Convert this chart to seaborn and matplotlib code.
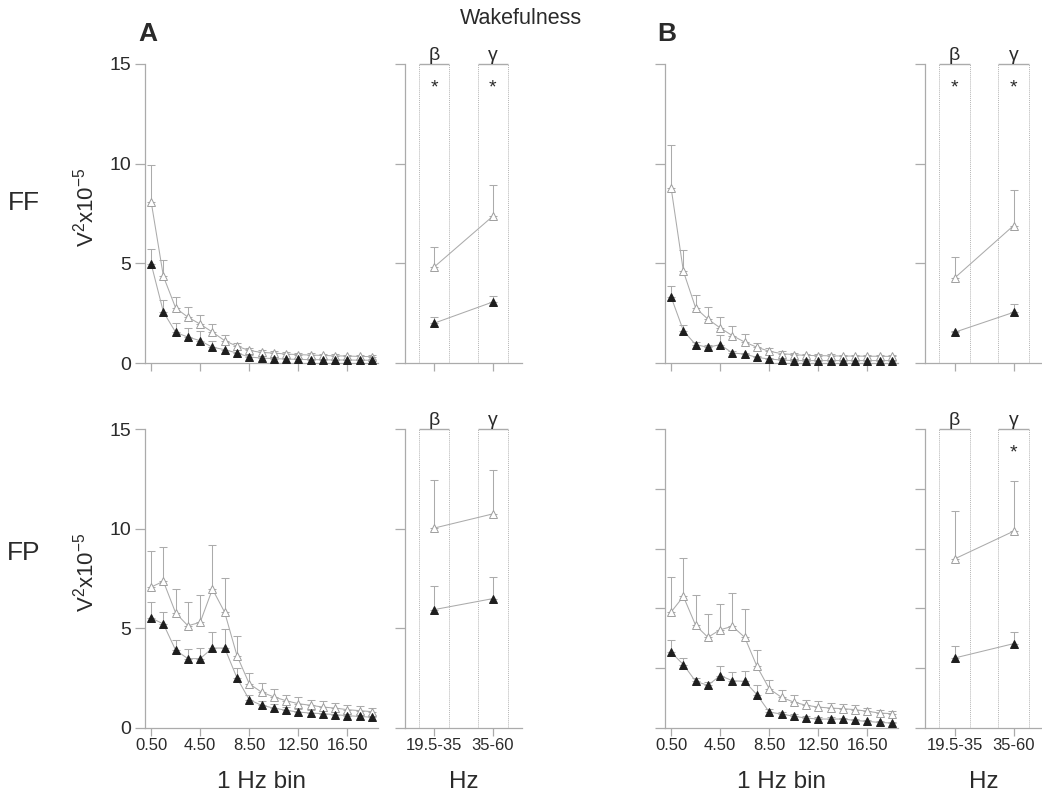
import numpy as np
import pandas as pd
import matplotlib
matplotlib.use('Agg')
import matplotlib.pyplot as plt
import seaborn as sns

# ---------------- data ----------------
bins = [0.5 + i for i in range(19)]
bin_ticks = [0.5, 4.5, 8.5, 12.5, 16.5]
bin_ticklabels = ['0.50', '4.50', '8.50', '12.50', '16.50']
bands = ['19.5-35', '35-60']
band_letters = ['β', 'γ']

# Panel A, FF
A_FF_open = [8.1, 4.35, 2.76, 2.3, 1.95, 1.55, 1.12, 0.84, 0.63, 0.53, 0.5, 0.45, 0.42, 0.4, 0.38, 0.36, 0.35, 0.33, 0.32]
A_FF_open_top = [9.95, 5.15, 3.3, 2.8, 2.4, 1.95, 1.4, 1.0, 0.75, 0.65, 0.6, 0.55, 0.5, 0.48, 0.46, 0.44, 0.42, 0.4, 0.39]
A_FF_fill = [4.98, 2.56, 1.54, 1.3, 1.12, 0.79, 0.67, 0.5, 0.3, 0.25, 0.22, 0.2, 0.18, 0.17, 0.16, 0.15, 0.15, 0.14, 0.14]
A_FF_fill_top = [5.7, 3.18, 2.0, 1.75, 1.6, 1.1, 0.92, 0.67, 0.4, 0.33, 0.3, 0.27, 0.25, 0.23, 0.22, 0.21, 0.2, 0.19, 0.19]
# Panel A, FP
A_FP_open = [7.07, 7.36, 5.77, 5.13, 5.3, 6.97, 5.8, 3.63, 2.22, 1.8, 1.56, 1.37, 1.22, 1.14, 1.05, 1.0, 0.92, 0.87, 0.82]
A_FP_open_top = [8.9, 9.08, 6.99, 6.32, 6.66, 9.16, 7.53, 4.6, 2.76, 2.26, 1.96, 1.67, 1.54, 1.42, 1.34, 1.25, 1.14, 1.08, 1.02]
A_FP_fill = [5.52, 5.22, 3.9, 3.48, 3.48, 4.01, 4.01, 2.51, 1.42, 1.14, 1.0, 0.89, 0.8, 0.75, 0.72, 0.67, 0.62, 0.58, 0.54]
A_FP_fill_top = [6.32, 5.82, 4.4, 3.96, 4.01, 4.82, 4.97, 3.01, 1.67, 1.35, 1.2, 1.05, 0.95, 0.9, 0.85, 0.8, 0.75, 0.7, 0.65]
# Panel B, FF
B_FF_open = [8.78, 4.6, 2.76, 2.2, 1.76, 1.37, 1.05, 0.79, 0.59, 0.47, 0.42, 0.38, 0.37, 0.36, 0.35, 0.35, 0.34, 0.34, 0.33]
B_FF_open_top = [10.95, 5.65, 3.43, 2.79, 2.31, 1.87, 1.45, 1.0, 0.75, 0.6, 0.52, 0.47, 0.45, 0.43, 0.42, 0.41, 0.4, 0.4, 0.39]
B_FF_fill = [3.31, 1.62, 0.92, 0.79, 0.92, 0.5, 0.45, 0.28, 0.2, 0.15, 0.12, 0.12, 0.12, 0.12, 0.12, 0.12, 0.12, 0.12, 0.12]
B_FF_fill_top = [3.85, 1.92, 1.05, 0.9, 1.4, 0.6, 0.52, 0.34, 0.25, 0.19, 0.16, 0.16, 0.16, 0.15, 0.15, 0.15, 0.15, 0.15, 0.15]
# Panel B, FP
B_FP_open = [5.82, 6.6, 5.15, 4.55, 4.93, 5.1, 4.55, 3.09, 1.97, 1.54, 1.3, 1.14, 1.05, 1.0, 0.97, 0.92, 0.84, 0.75, 0.72]
B_FP_open_top = [7.58, 8.53, 6.66, 5.72, 6.22, 6.77, 5.97, 3.93, 2.42, 1.89, 1.64, 1.42, 1.34, 1.25, 1.22, 1.17, 1.0, 0.9, 0.85]
B_FP_fill = [3.8, 3.18, 2.34, 2.14, 2.63, 2.37, 2.34, 1.67, 0.8, 0.7, 0.59, 0.5, 0.45, 0.45, 0.45, 0.38, 0.33, 0.28, 0.25]
B_FP_fill_top = [4.43, 3.51, 2.5, 2.3, 3.09, 2.79, 2.88, 2.17, 0.95, 0.82, 0.7, 0.6, 0.55, 0.53, 0.52, 0.45, 0.4, 0.35, 0.32]

# Band summaries (beta, gamma)
A_FF_band_open = [4.82, 7.36]
A_FF_band_open_top = [5.82, 8.95]
A_FF_band_fill = [2.0, 3.06]
A_FF_band_fill_top = [2.31, 3.38]
A_FP_band_open = [10.03, 10.74]
A_FP_band_open_top = [12.42, 12.96]
A_FP_band_fill = [5.94, 6.49]
A_FP_band_fill_top = [7.1, 7.58]
B_FF_band_open = [4.26, 6.89]
B_FF_band_open_top = [5.32, 8.7]
B_FF_band_fill = [1.54, 2.54]
B_FF_band_fill_top = [1.6, 2.96]
B_FP_band_open = [8.48, 9.87]
B_FP_band_open_top = [10.9, 12.41]
B_FP_band_fill = [3.51, 4.23]
B_FP_band_fill_top = [4.1, 4.82]

A_FF_stars = [True, True]
A_FP_stars = [False, False]
B_FF_stars = [True, True]
B_FP_stars = [False, True]

yticks_std = [0, 5, 10, 15]
yticks_B_FP = [0, 3, 6, 9, 12, 15]

# ---------------- style ----------------
sns.set_style('ticks')
plt.rcParams['font.family'] = ['Liberation Sans', 'DejaVu Sans']
plt.rcParams['mathtext.fontset'] = 'custom'
plt.rcParams['mathtext.rm'] = 'Liberation Sans'
plt.rcParams['mathtext.it'] = 'Liberation Sans:italic'

AXC = '#ababab'
LINEC = '#ababab'
OPENC = '#9e9e9e'
DARK = '#1e1e1e'
TXT = '#2a2a2a'
YMAX = 15

W, H = 1042, 795
fig = plt.figure(figsize=(W / 100, H / 100), dpi=100)


def px_axes(x0, x1, ytop, ybot):
    return fig.add_axes([x0 / W, 1 - ybot / H, (x1 - x0) / W, (ybot - ytop) / H])


def style_axes(ax):
    sns.despine(ax=ax)
    for s in ['left', 'bottom']:
        ax.spines[s].set_color(AXC)
        ax.spines[s].set_linewidth(0.9)
    ax.tick_params(axis='y', colors=AXC, labelcolor=TXT, length=7, width=0.9, labelsize=14, pad=3)
    ax.tick_params(axis='x', colors=AXC, labelcolor=TXT, length=6, width=0.9, labelsize=12, pad=1.5)
    ax.set_ylim(0, YMAX)


def draw_series(ax, x, y, top, filled):
    y = np.asarray(y, float)
    top = np.asarray(top, float)
    ax.errorbar(x, y, yerr=[np.zeros_like(y), np.clip(top - y, 0, None)], fmt='none',
                ecolor=LINEC, elinewidth=0.75, capsize=2.7, capthick=0.75, zorder=1)
    df = pd.DataFrame({'x': x, 'y': y})
    sns.lineplot(data=df, x='x', y='y', ax=ax, color=LINEC, lw=0.75, marker='^', markersize=5.2,
                 markerfacecolor=DARK if filled else 'white',
                 markeredgecolor=DARK if filled else OPENC, markeredgewidth=0.7,
                 estimator=None, sort=False, zorder=3)


def big_panel(ax, open_v, open_t, fill_v, fill_t, yticks, show_ylabels, bottom_row):
    draw_series(ax, bins, open_v, open_t, False)
    draw_series(ax, bins, fill_v, fill_t, True)
    style_axes(ax)
    ax.set_xlim(0, 19)
    ax.set_yticks(yticks)
    ax.set_xticks(bin_ticks)
    ax.set_xlabel('')
    ax.set_ylabel('')
    if bottom_row:
        ax.set_xticklabels(bin_ticklabels)
        ax.set_xlabel('1 Hz bin', fontsize=17.5, color=TXT, labelpad=13)
    else:
        ax.set_xticklabels([])
    if show_ylabels:
        ax.set_yticklabels([str(t) for t in yticks])
        ax.set_ylabel(r'V$^{2}$x10$^{-5}$', fontsize=16, color=TXT)
        ax.yaxis.set_label_coords(-0.2, 0.52)
    else:
        ax.set_yticklabels([])
    for ln in ax.get_lines():
        ln.set_clip_on(False)


def small_panel(ax, open_v, open_t, fill_v, fill_t, stars, yticks, bottom_row):
    xs = list(range(len(bands)))
    draw_series(ax, xs, open_v, open_t, False)
    draw_series(ax, xs, fill_v, fill_t, True)
    style_axes(ax)
    ax.set_xlim(-0.5, len(bands) - 0.5)
    ax.set_yticks(yticks)
    ax.set_yticklabels([])
    ax.set_xticks(xs)
    ax.set_xlabel('')
    ax.set_ylabel('')
    hw = 0.26
    for i, letter in enumerate(band_letters):
        ax.vlines([i - hw, i + hw], 0, YMAX, colors='#b5b5b5', linestyles=(0, (1, 1)), linewidth=0.7, zorder=0)
        ax.hlines(YMAX, i - hw, i + hw, colors=AXC, linewidth=1.0, zorder=0, clip_on=False)
        ax.annotate(letter, xy=(i, YMAX), xytext=(0, 0.3), textcoords='offset points',
                    ha='center', va='bottom', fontsize=14, color=TXT, annotation_clip=False)
        if stars[i]:
            ax.text(i, 13.78, '*', ha='center', va='center', fontsize=14, color=TXT)
    if bottom_row:
        ax.set_xticklabels(bands)
        ax.set_xlabel('Hz', fontsize=17.5, color=TXT, labelpad=13)
    else:
        ax.set_xticklabels([])
    for ln in ax.get_lines():
        ln.set_clip_on(False)


top_y = (64, 363)
bot_y = (429, 728)

axA1 = px_axes(145, 378, *top_y)
axA2 = px_axes(405, 522, *top_y)
axB1 = px_axes(665, 898, *top_y)
axB2 = px_axes(925, 1043, *top_y)
axA3 = px_axes(145, 378, *bot_y)
axA4 = px_axes(405, 522, *bot_y)
axB3 = px_axes(665, 898, *bot_y)
axB4 = px_axes(925, 1043, *bot_y)

big_panel(axA1, A_FF_open, A_FF_open_top, A_FF_fill, A_FF_fill_top, yticks_std, True, False)
small_panel(axA2, A_FF_band_open, A_FF_band_open_top, A_FF_band_fill, A_FF_band_fill_top, A_FF_stars, yticks_std, False)
big_panel(axB1, B_FF_open, B_FF_open_top, B_FF_fill, B_FF_fill_top, yticks_std, False, False)
small_panel(axB2, B_FF_band_open, B_FF_band_open_top, B_FF_band_fill, B_FF_band_fill_top, B_FF_stars, yticks_std, False)
big_panel(axA3, A_FP_open, A_FP_open_top, A_FP_fill, A_FP_fill_top, yticks_std, True, True)
small_panel(axA4, A_FP_band_open, A_FP_band_open_top, A_FP_band_fill, A_FP_band_fill_top, A_FP_stars, yticks_std, True)
big_panel(axB3, B_FP_open, B_FP_open_top, B_FP_fill, B_FP_fill_top, yticks_B_FP, False, True)
small_panel(axB4, B_FP_band_open, B_FP_band_open_top, B_FP_band_fill, B_FP_band_fill_top, B_FP_stars, yticks_B_FP, True)

fig.text(521 / W, 1 - 18 / H, 'Wakefulness', ha='center', va='center', fontsize=15.5, color=TXT)
fig.text(148 / W, 1 - 34 / H, 'A', ha='center', va='center', fontsize=19, fontweight='bold', color=TXT)
fig.text(667 / W, 1 - 34 / H, 'B', ha='center', va='center', fontsize=19, fontweight='bold', color=TXT)
fig.text(24 / W, 1 - 203 / H, 'FF', ha='center', va='center', fontsize=19, color=TXT)
fig.text(24 / W, 1 - 553 / H, 'FP', ha='center', va='center', fontsize=19, color=TXT)

fig.savefig('out.png', dpi=100, facecolor='white')
